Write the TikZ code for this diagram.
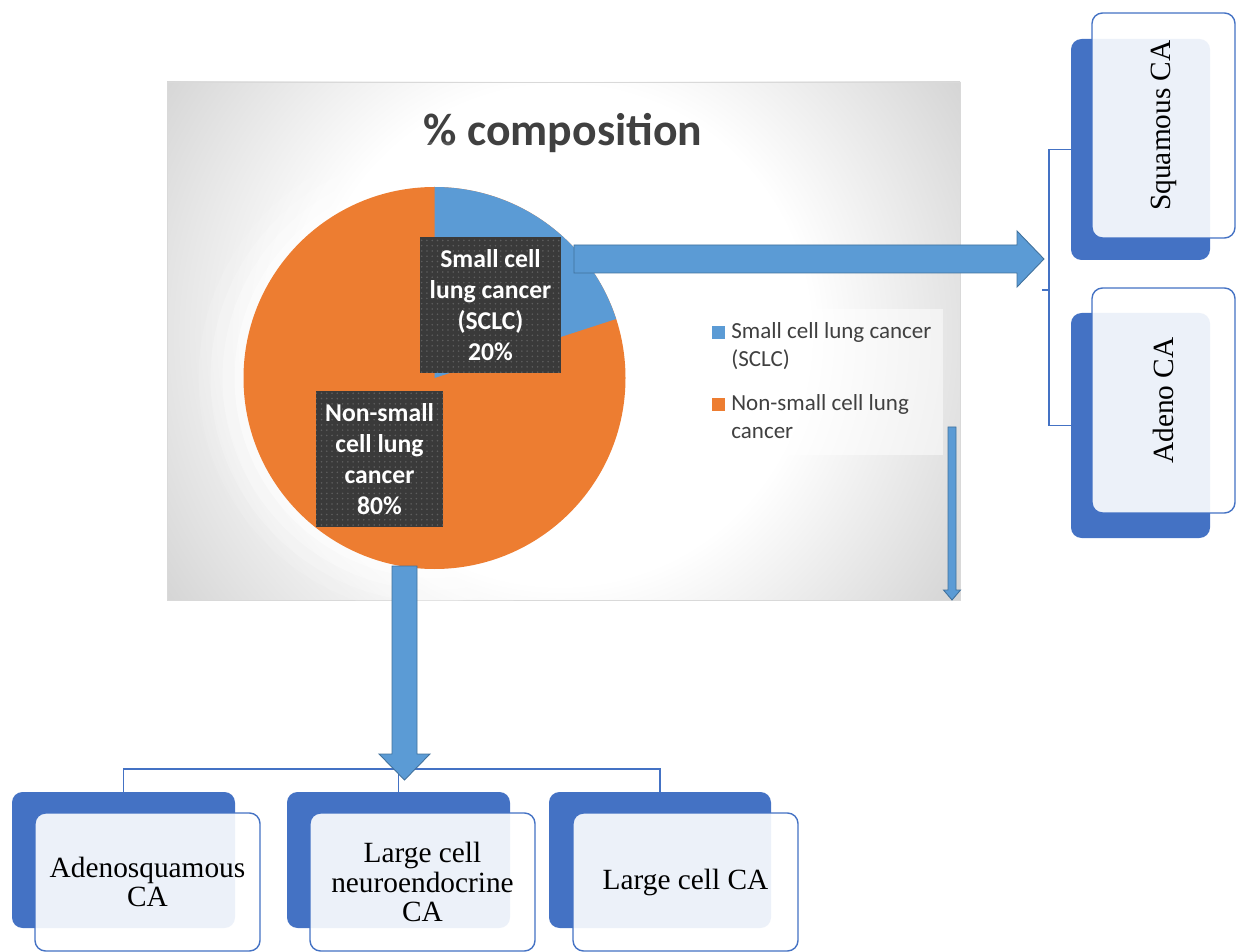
\documentclass[tikz,border=0pt]{standalone}
\usepackage{fontspec}
\setmainfont{Liberation Serif}
\newfontfamily\calfont{Carlito}
\usetikzlibrary{calc,patterns}
\newlength{\pu}\setlength{\pu}{0.02cm}
\definecolor{arrowblue}{HTML}{5B9BD5}
\definecolor{arrowedge}{HTML}{41719C}
\definecolor{boxblue}{HTML}{4472C4}
\definecolor{pieorange}{HTML}{ED7D31}
\definecolor{labeldark}{HTML}{3A3A3A}
\definecolor{labeldot}{HTML}{5E5E5E}
\definecolor{txtgray}{HTML}{404040}
\definecolor{bggray}{HTML}{C4C4C4}
\pgfdeclareradialshading{chartbg}{\pgfpoint{0bp}{0bp}}{color(0bp)=(white); color(13bp)=(white); color(29.5bp)=(bggray); color(50bp)=(bggray)}
\tikzset{
  backbox/.style={fill=boxblue, rounded corners=6pt, inner sep=0pt},
  frontbox/.style={draw=boxblue, line width=0.8pt, fill=white, fill opacity=0.9, text opacity=1,
    rounded corners=6pt, inner sep=0pt, align=center, text=black,
    font=\fontsize{16.7}{17}\selectfont},
  pielabel/.style={fill=labeldark, text=white, align=center, inner sep=0pt,
    postaction={pattern=dots, pattern color=labeldot},
    font=\calfont\bfseries\fontsize{14.6}{17.6}\selectfont},
  legtext/.style={text=txtgray, align=left, inner sep=0pt, anchor=north west,
    font=\calfont\fontsize{13.1}{16.2}\selectfont},
  blockarrow/.style={fill=arrowblue, draw=arrowedge, line width=0.5pt, line join=miter},
  bracket/.style={draw=boxblue, line width=0.8pt}
}
\begin{document}
\begin{tikzpicture}[x=0.02cm, y=-0.02cm]
\useasboundingbox (0,0) rectangle (1237,952);
% chart area
\begin{scope}
\clip (167,82) rectangle (960,600);
\shade[shading=chartbg] (560,335) circle[radius=480];
\end{scope}
\draw[gray!30, line width=0.5pt] (167,82) rectangle (960,600);
% title
\node[font=\calfont\bfseries\fontsize{26}{31}\selectfont, text=txtgray, anchor=base, inner sep=0pt] (title) at (563,146) {\% composition};
% pie glow
\coordinate (pc) at (434.5,378);
\foreach \r/\o in {236/0.12, 224/0.2, 212/0.3, 200/0.45} \fill[white, opacity=\o] (pc) circle[radius=\r];
% pie
\fill[pieorange] (pc) circle[radius=191];
\fill[arrowblue] (pc) -- ++(-90:191) arc[start angle=-90, end angle=-18, radius=191] -- cycle;
% pie labels
\node[pielabel, minimum width=141\pu, minimum height=136\pu] (sclc) at (490.5,305) {Small cell\\lung cancer\\(SCLC)\\20\%};
\node[pielabel, minimum width=127\pu, minimum height=136\pu] (nsclc) at (379.5,459) {Non-small\\cell lung\\cancer\\80\%};
% legend
\fill[white, opacity=0.5] (698,309) rectangle (943,455);
\fill[arrowblue] (712,326) rectangle (725,339);
\fill[pieorange] (712,398) rectangle (725,411);
\node[legtext] (leg1) at (731,322) {Small cell lung cancer\\(SCLC)};
\node[legtext] (leg2) at (731,394) {Non-small cell lung\\cancer};
% right boxes
\node[backbox, minimum width=139\pu, minimum height=221\pu] (sqback) at (1140.5,149.5) {};
\node[frontbox, rotate=90, minimum width=225\pu, minimum height=143\pu] (sq) at (1163.5,125.5) {Squamous CA};
\node[backbox, minimum width=139\pu, minimum height=225\pu] (adback) at (1140.5,425.5) {};
\node[frontbox, rotate=90, minimum width=225\pu, minimum height=143\pu] (ad) at (1163.5,400.5) {Adeno CA};
% bottom boxes
\node[backbox, minimum width=223\pu, minimum height=136\pu] (asback) at (123.5,860) {};
\node[frontbox, minimum width=225\pu, minimum height=138\pu] (as) at (147.5,882) {Adenosquamous\\CA};
\node[backbox, minimum width=223\pu, minimum height=136\pu] (lnback) at (398.5,860) {};
\node[frontbox, minimum width=225\pu, minimum height=138\pu] (ln) at (422.5,882) {Large cell\\neuroendocrine\\CA};
\node[backbox, minimum width=222\pu, minimum height=136\pu] (lcback) at (660,860) {};
\node[frontbox, minimum width=225\pu, minimum height=138\pu] (lc) at (685.5,882) {Large cell CA};
% brackets
\coordinate (rb) at (1049,290);
\draw[bracket] (sqback.west) -| (rb) |- (adback.west);
\draw[bracket] (rb) -- ++(-7,0);
\coordinate (bb) at (398.5,769);
\draw[bracket] (asback.north) |- (bb) -| (lcback.north);
\draw[bracket] (lnback.north) -- (bb);
% block arrows
\coordinate (hs) at (574,259);
\coordinate (he) at (1044,259);
\draw[blockarrow] ($(hs)+(0,-14)$) -- ($(he)+(-27,-14)$) -- ($(he)+(-27,-28)$) -- (he)
  -- ($(he)+(-27,28)$) -- ($(he)+(-27,14)$) -- ($(hs)+(0,14)$) -- cycle;
\coordinate (vs) at (404.5,566);
\coordinate (ve) at (404.5,780);
\draw[blockarrow] ($(vs)+(-12.5,0)$) -- ($(ve)+(-12.5,-26)$) -- ($(ve)+(-25.5,-26)$) -- (ve)
  -- ($(ve)+(25.5,-26)$) -- ($(ve)+(12.5,-26)$) -- ($(vs)+(12.5,0)$) -- cycle;
\coordinate (ts) at (952,427);
\coordinate (te) at (952,600);
\draw[blockarrow] ($(ts)+(-4,0)$) -- ($(te)+(-4,-10)$) -- ($(te)+(-8.5,-10)$) -- (te)
  -- ($(te)+(8.5,-10)$) -- ($(te)+(4,-10)$) -- ($(ts)+(4,0)$) -- cycle;
\end{tikzpicture}
\end{document}
